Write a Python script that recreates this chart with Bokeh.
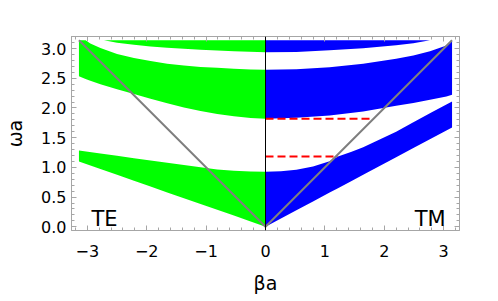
import numpy as np
from bokeh.plotting import figure
from bokeh.models import LinearAxis, FixedTicker, Range1d, Span, Label, CustomJSTickFormatter
from bokeh.embed import file_html
from bokeh.resources import INLINE

PI = np.pi

# ---- TE bands (left half, beta a < 0) ----
te1_beta = [-PI, -2.78, -2.50, -2.215, -1.936, -1.655, -1.374, -1.094, -0.813, -0.532, -0.25, 0.0]
te1_low = [1.099, 0.973, 0.875, 0.775, 0.677, 0.579, 0.480, 0.385, 0.285, 0.188, 0.090, 0.0]
te1_high = [1.284, 1.234, 1.195, 1.155, 1.116, 1.077, 1.040, 1.003, 0.965, 0.942, 0.931, 0.925]

te2_beta = [-PI, -3.03, -2.95, -2.78, -2.50, -2.215, -1.936, -1.655, -1.374, -1.094, -0.813, -0.532, -0.25, 0.0]
te2_low = [2.535, 2.490, 2.460, 2.400, 2.315, 2.235, 2.155, 2.080, 2.010, 1.950, 1.900, 1.862, 1.833, 1.818]
te2_high = [3.1416, 3.140, 3.085, 3.010, 2.910, 2.840, 2.790, 2.744, 2.716, 2.690, 2.677, 2.660, 2.648, 2.643]

te3_beta = [-2.72, -2.50, -2.215, -1.936, -1.655, -1.374, -1.094, -0.813, -0.532, 0.0]
te3_low = [3.140, 3.100, 3.064, 3.035, 3.013, 2.997, 2.980, 2.968, 2.956, 2.940]
te3_high = [3.1416, 3.1416, 3.1416, 3.1416, 3.1416, 3.1416, 3.1416, 3.1416, 3.1416, 3.1416]

# ---- TM bands (right half, beta a > 0) ----
tm1_beta = [0.0, 0.26, 0.52, 0.80, 1.08, 1.22, 1.45, 1.645, 2.2, 2.49, 2.8, PI]
tm1_low = [0.0, 0.138, 0.277, 0.426, 0.575, 0.650, 0.772, 0.875, 1.170, 1.325, 1.490, 1.672]
tm1_high = [0.925, 0.935, 0.960, 1.015, 1.105, 1.183, 1.265, 1.340, 1.600, 1.760, 1.930, 2.110]

tm2_beta = [0.0, 0.52, 1.08, 1.645, 2.2, 2.49, 2.77, 3.047, PI]
tm2_low = [1.818, 1.835, 1.874, 1.941, 2.037, 2.085, 2.138, 2.195, 2.222]
tm2_high = [2.643, 2.654, 2.687, 2.744, 2.828, 2.884, 2.956, 3.052, 3.1416]

tm3_beta = [0.0, 0.52, 1.08, 1.645, 2.2, 2.49, 2.77]
tm3_low = [2.940, 2.945, 2.973, 3.007, 3.057, 3.091, 3.140]
tm3_high = [3.1416, 3.1416, 3.1416, 3.1416, 3.1416, 3.1416, 3.1416]

# ---- light line ----
light_beta = [-PI, 0.0, PI]
light_omega = [PI, 0.0, PI]

# ---- red dashed guide lines ----
red_omega = [1.818, 1.183]
red_beta_start = [0.0, 0.0]
red_beta_end = [1.82, 1.22]

# ---- ticks ----
x_ticks = [-3, -2, -1, 0, 1, 2, 3]
x_tick_labels = ["\u22123", "\u22122", "\u22121", "0", "1", "2", "3"]
y_ticks = [0.0, 0.5, 1.0, 1.5, 2.0, 2.5, 3.0]
y_tick_labels = ["0.0", "0.5", "1.0", "1.5", "2.0", "2.5", "3.0"]
x_minor = [round(-3.2 + 0.2 * i, 2) for i in range(33)]
y_minor = [round(0.1 * i, 2) for i in range(33)]

FRAME = "#a6a6a6"
FONT = "DejaVu Sans"
GREEN = "#00ff00"
BLUE = "#0000ff"

p = figure(frame_width=388, frame_height=194,
           x_range=Range1d(-3.267, 3.267), y_range=Range1d(-0.0628, 3.204),
           output_backend="svg", toolbar_location=None,
           min_border_left=71, min_border_right=31, min_border_top=36, min_border_bottom=64,
           background_fill_color="white", border_fill_color="white")
p.grid.visible = False
p.outline_line_color = FRAME

# bands
p.varea(x=te1_beta, y1=te1_low, y2=te1_high, fill_color=GREEN)
p.varea(x=te2_beta, y1=te2_low, y2=te2_high, fill_color=GREEN)
p.varea(x=te3_beta, y1=te3_low, y2=te3_high, fill_color=GREEN)
p.varea(x=tm1_beta, y1=tm1_low, y2=tm1_high, fill_color=BLUE)
p.varea(x=tm2_beta, y1=tm2_low, y2=tm2_high, fill_color=BLUE)
p.varea(x=tm3_beta, y1=tm3_low, y2=tm3_high, fill_color=BLUE)

# red dashed lines
p.segment(x0=red_beta_start, y0=red_omega, x1=red_beta_end, y1=red_omega,
          line_color="#ff0000", line_width=2, line_dash="8 4")

# light line
p.line(light_beta, light_omega, line_color="#808080", line_width=2)

# vertical axis line at beta a = 0
p.add_layout(Span(location=0, dimension="height", line_color="black", line_width=1))

# texts
p.add_layout(Label(x=-2.93, y=0.135, text="TE", text_font=FONT, text_font_size="21px",
                   text_align="left", text_baseline="alphabetic", text_color="black"))
p.add_layout(Label(x=3.035, y=0.135, text="TM", text_font=FONT, text_font_size="21px",
                   text_align="right", text_baseline="alphabetic", text_color="black"))


def style(ax):
    ax.axis_line_color = FRAME
    ax.major_tick_line_color = FRAME
    ax.minor_tick_line_color = FRAME
    ax.major_tick_in = 5
    ax.major_tick_out = 0
    ax.minor_tick_in = 3
    ax.minor_tick_out = 0
    ax.major_label_text_font = FONT
    ax.major_label_text_font_size = "16px"
    ax.major_label_text_color = "black"
    ax.axis_label_text_font = FONT
    ax.axis_label_text_font_size = "19px"
    ax.axis_label_text_font_style = "normal"
    ax.axis_label_text_color = "black"


xt = FixedTicker(ticks=x_ticks, minor_ticks=x_minor)
yt = FixedTicker(ticks=y_ticks, minor_ticks=y_minor)

xa = p.xaxis[0]
xa.ticker = xt
xa.major_label_overrides = {t: l for t, l in zip(x_ticks, x_tick_labels)}
style(xa)
xa.major_label_standoff = 14
xa.axis_label = "βa"
xa.axis_label_standoff = 12

ya = p.yaxis[0]
ya.ticker = yt
ya.major_label_overrides = {t: l for t, l in zip(y_ticks, y_tick_labels)}
style(ya)
ya.major_label_standoff = 5
ya.axis_label = "ωa"
ya.axis_label_standoff = 12

empty = CustomJSTickFormatter(code="return '';")
top = LinearAxis(ticker=FixedTicker(ticks=x_ticks, minor_ticks=x_minor), formatter=empty)
style(top)
top.major_label_text_font_size = "1px"
top.major_label_standoff = 0
p.add_layout(top, "above")
right = LinearAxis(ticker=FixedTicker(ticks=y_ticks, minor_ticks=y_minor), formatter=empty)
style(right)
right.major_label_text_font_size = "1px"
right.major_label_standoff = 0
p.add_layout(right, "right")

open("out.html", "w").write(file_html(p, INLINE))
